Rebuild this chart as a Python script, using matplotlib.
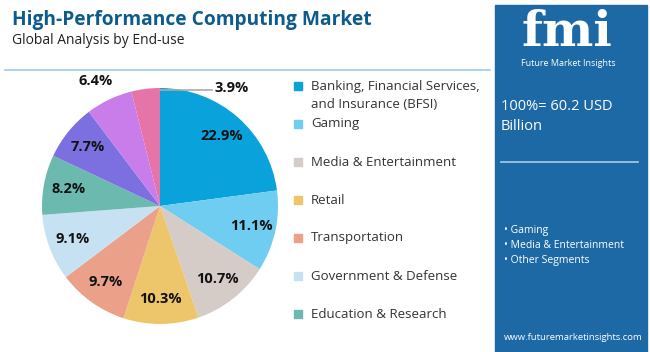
import numpy as np
import matplotlib.pyplot as plt
from matplotlib.patches import Rectangle

segments = ["Banking, Financial Services,\nand Insurance (BFSI)", "Gaming",
            "Media & Entertainment", "Retail", "Transportation",
            "Government & Defense", "Education & Research",
            "Other 1", "Other 2", "Other 3"]
shares = [22.9, 11.1, 10.7, 10.3, 9.7, 9.1, 8.2, 7.7, 6.4, 3.9]
colors = ["#0AA2DB", "#6FCDF1", "#D5CCC8", "#EDC66B", "#EBA08A",
          "#C6E1F1", "#6CB9AF", "#7C70E0", "#C97DEA", "#E575A9"]
legend_count = 7
side_bullets = ["Gaming", "Media & Entertainment", "Other Segments"]

W, H = 650, 352
fig = plt.figure(figsize=(W / 100, H / 100), dpi=100)
fig.patch.set_facecolor("white")

def fx(x):
    return x / W

def fy(y):
    return 1 - y / H

# header
fig.text(fx(12), fy(20), "High-Performance Computing Market", fontsize=13.8,
         fontweight="bold", color="#0D5B8C", family="Open Sans", va="center")
fig.text(fx(12), fy(40), "Global Analysis by End-use", fontsize=10,
         color="#222222", family="Open Sans", va="center")
fig.add_artist(plt.Line2D([fx(5), fx(490)], [fy(70), fy(70)],
                          color="#9FCBE6", lw=1.2))

# pie
cx, cy, r = 160, 206, 118
ax = fig.add_axes([fx(cx - r), fy(cy + r), 2 * r / W, 2 * r / H])
wedges, _ = ax.pie(shares, colors=colors, startangle=90, counterclock=False,
                   radius=1, wedgeprops=dict(linewidth=0))
ax.set_xlim(-1, 1)
ax.set_ylim(-1, 1)
ax.axis("off")

cum = 0
for i, s in enumerate(shares):
    mid = np.deg2rad(90 - (cum + s / 2) * 3.6)
    cum += s
    lab = f"{s}%"
    if i == len(shares) - 1:
        # small slice: label outside with a leader line
        ax.plot([0.0, 0.44], [0.985, 0.985], color="#AAAAAA", lw=1.2, clip_on=False)
        ax.text(0.46, 1.0, lab, ha="left", va="center", fontsize=10.5,
                fontweight="bold", color="#111111", family="Open Sans")
        continue
    rr = 1.17 if i == len(shares) - 2 else 0.79
    ax.text(rr * np.cos(mid) - (0.04 if rr > 1 else 0), rr * np.sin(mid), lab,
            ha="center", va="center", fontsize=10.5, fontweight="bold",
            color="#111111", family="Open Sans")

# legend
ly = [86, 124, 162, 200, 238, 276, 314]
for i in range(legend_count):
    y = ly[i]
    fig.add_artist(Rectangle((fx(294), fy(y + 4)), 8 / W, 8 / H,
                             color=colors[i], transform=fig.transFigure))
    if "\n" in segments[i]:
        fig.text(fx(311), fy(y + 9.5), segments[i], fontsize=9.5, color="#333333",
                 family="Open Sans", va="center", linespacing=1.45)
    else:
        fig.text(fx(311), fy(y), segments[i], fontsize=9.5, color="#333333",
                 family="Open Sans", va="center")

# right panel
fig.add_artist(Rectangle((fx(495), 0), 152 / W, fy(5), color="#1C69A6",
                         transform=fig.transFigure))
fig.text(fx(567), fy(33), "fmi", fontsize=35, fontweight="bold", color="white",
         family="DejaVu Serif", ha="center", va="center")
fig.text(fx(568), fy(63), "Future Market Insights", fontsize=6.5, color="white",
         family="Open Sans", ha="center", va="center")
fig.text(fx(501), fy(107), "100%= 60.2 USD", fontsize=10.5, color="white",
         family="Open Sans", va="center")
fig.text(fx(501), fy(127), "Billion", fontsize=10.5, color="white",
         family="Open Sans", va="center")
fig.add_artist(plt.Line2D([fx(501), fx(638)], [fy(162), fy(162)],
                          color="#A9CBE6", lw=1.2))
for i, b in enumerate(side_bullets):
    fig.text(fx(504), fy(230 + i * 15), "\u2022 " + b, fontsize=7.5, color="white",
             family="Open Sans", va="center")
fig.text(fx(504), fy(337), "www.futuremarketinsights.com", fontsize=6.8,
         color="white", family="Open Sans", va="center")

fig.savefig("out.png", dpi=100)
